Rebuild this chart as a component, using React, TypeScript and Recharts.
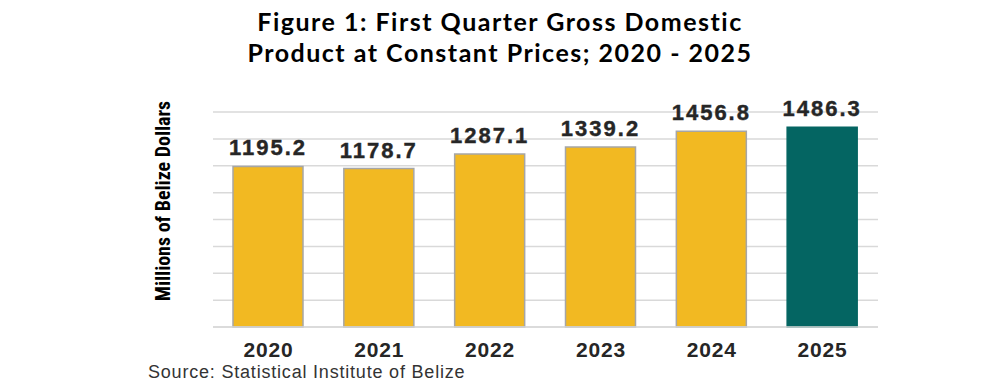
import { BarChart, Bar, XAxis, YAxis, CartesianGrid, Cell, LabelList } from 'recharts';

const years = ['2020', '2021', '2022', '2023', '2024', '2025'];
const gdpValues = [1195.2, 1178.7, 1287.1, 1339.2, 1456.8, 1486.3];
const yTicks = [0, 200, 400, 600, 800, 1000, 1200, 1400, 1600];

const GOLD = '#F2B922';
const TEAL = '#046562';

const data = years.map((year, i) => ({ year, value: gdpValues[i] }));

export default function App() {
  return (
    <div style={{ position: 'absolute', left: 0, top: 0, width: 1000, height: 392, background: '#fff' }}>
      <div
        style={{
          position: 'absolute',
          left: 0,
          top: 6,
          width: 1000,
          textAlign: 'center',
          fontFamily: 'Lato, "Open Sans", sans-serif',
          fontWeight: 700,
          fontSize: 25,
          letterSpacing: 1.5,
          lineHeight: '31px',
          color: '#000',
        }}
      >
        Figure 1: First Quarter Gross Domestic
        <br />
        Product at Constant Prices; 2020 - 2025
      </div>

      <div
        style={{
          position: 'absolute',
          left: 163,
          top: 201,
          transform: 'translate(-50%, -50%) rotate(-90deg)',
          whiteSpace: 'nowrap',
          fontFamily: '"Liberation Sans Narrow", "Roboto Condensed", sans-serif',
          fontWeight: 700,
          fontSize: 20,
          color: '#000',
        }}
      >
        Millions of Belize Dollars
      </div>

      <BarChart
        width={1000}
        height={392}
        data={data}
        margin={{ top: 112, right: 122, bottom: 25, left: 213 }}
        style={{ position: 'absolute', left: 0, top: 0 }}
      >
        <CartesianGrid vertical={false} stroke="#d9d9d9" strokeWidth={1.5} />
        <XAxis
          dataKey="year"
          height={40}
          tickLine={false}
          axisLine={{ stroke: '#d9d9d9', strokeWidth: 1.5 }}
          tick={{ fill: '#262626', fontSize: 21, fontWeight: 700, fontFamily: '"Liberation Sans", Arial, sans-serif', letterSpacing: 0.8 }}
          tickMargin={9}
        />
        <YAxis hide domain={[0, 1600]} ticks={yTicks} />
        <Bar dataKey="value" barSize={70} isAnimationActive={false} stroke="#a6a6a6" strokeWidth={1.5}>
          {data.map((d, i) => (
            <Cell
              key={d.year}
              fill={i === data.length - 1 ? TEAL : GOLD}
              stroke={i === data.length - 1 ? TEAL : '#a6a6a6'}
            />
          ))}
          <LabelList
            dataKey="value"
            position="top"
            offset={11}
            formatter={(v: number) => v.toFixed(1)}
            style={{
              fill: '#262626',
              stroke: '#262626',
              strokeWidth: 0.4,
              fontSize: 22,
              fontWeight: 700,
              fontFamily: '"Liberation Sans", Arial, sans-serif',
              letterSpacing: 2,
            }}
          />
        </Bar>
      </BarChart>

      <div
        style={{
          position: 'absolute',
          left: 148,
          top: 362,
          fontFamily: '"Liberation Sans", Arial, sans-serif',
          fontSize: 18,
          letterSpacing: 0.8,
          color: '#333',
          whiteSpace: 'nowrap',
        }}
      >
        Source: Statistical Institute of Belize
      </div>
    </div>
  );
}
